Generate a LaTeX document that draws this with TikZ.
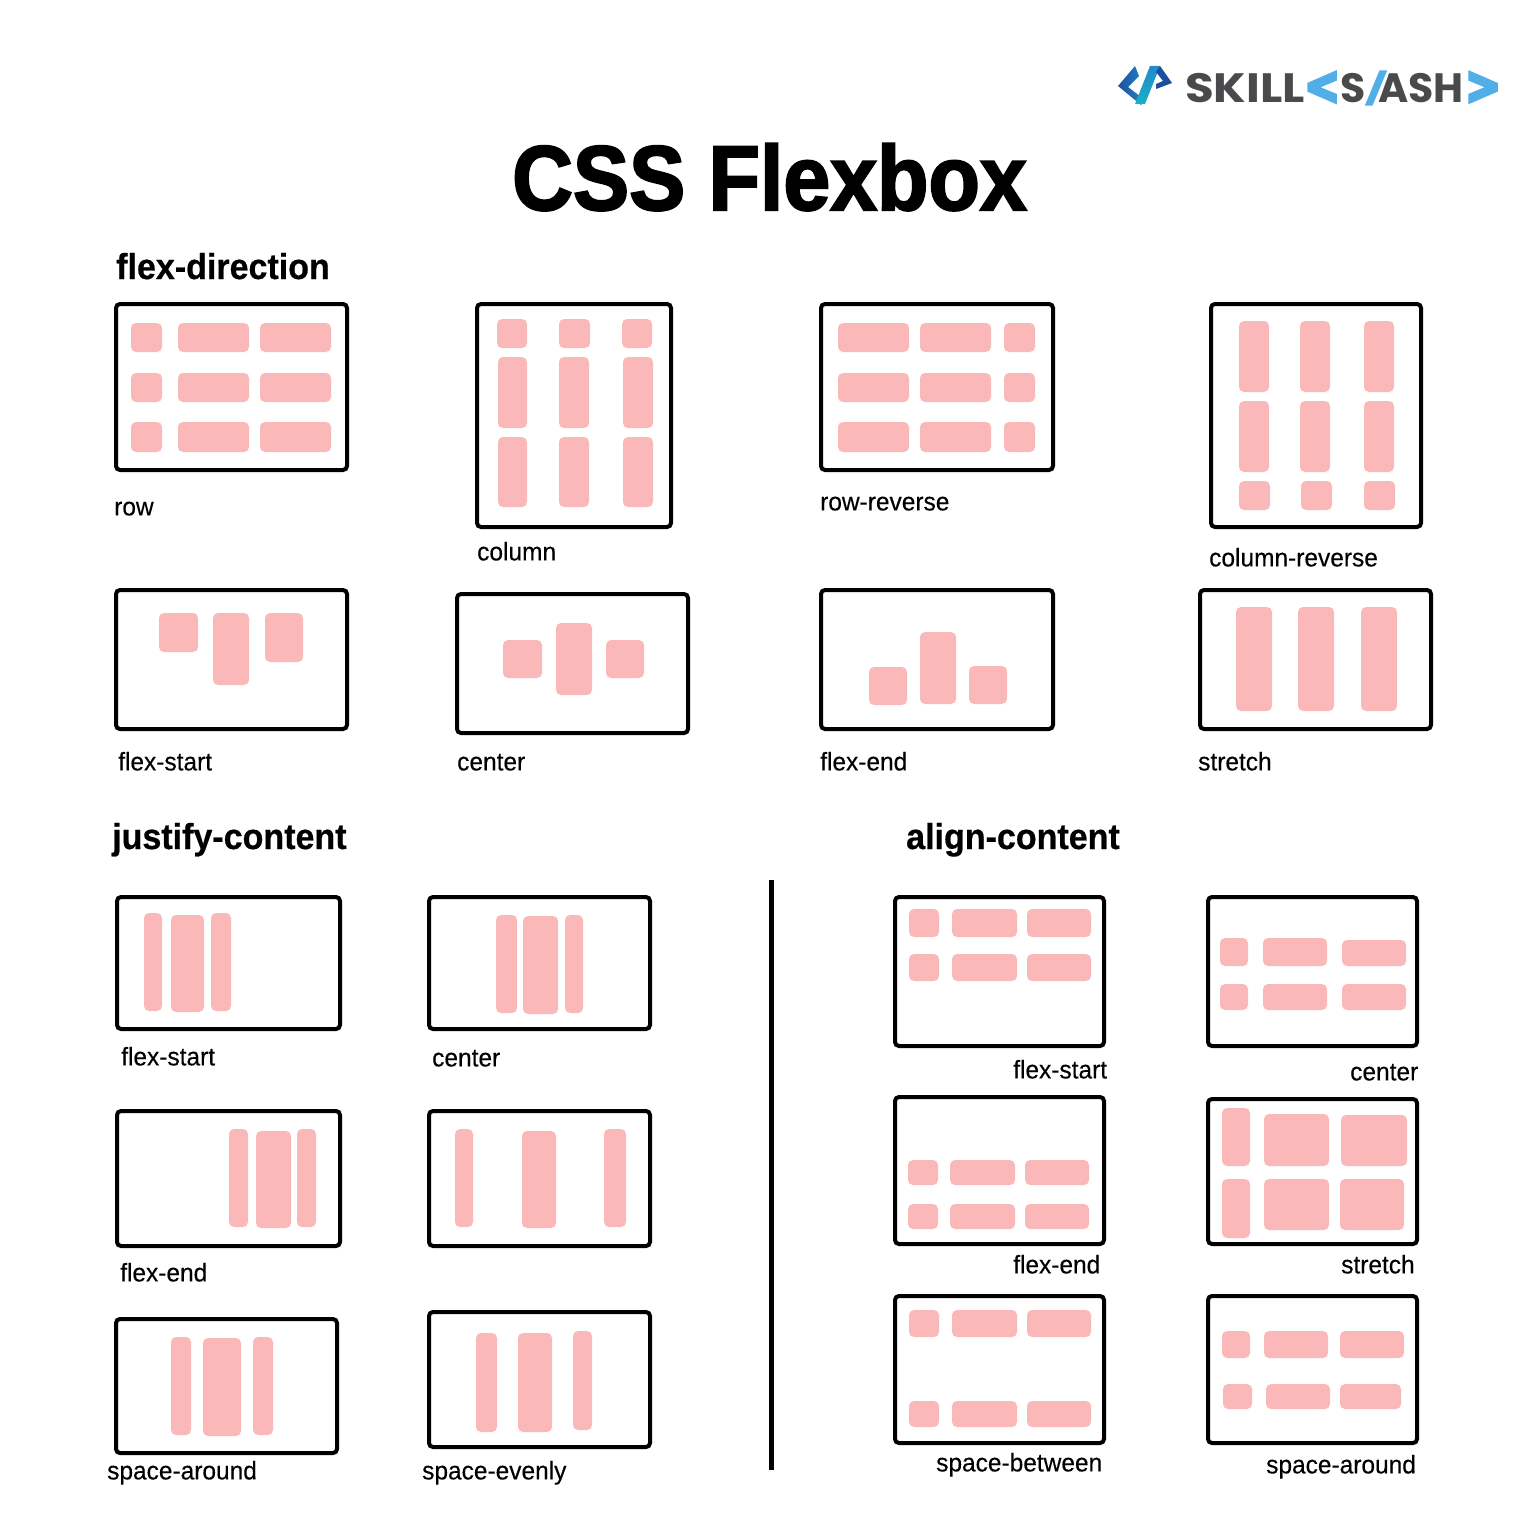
\documentclass[tikz,border=0pt]{standalone}
\usepackage{fontspec}
\usepackage{xcolor}
\setmainfont{Liberation Sans}
\newfontfamily\capfont[FakeStretch=0.96,FakeBold=0.25]{Liberation Sans}
\newfontfamily\titlefont[FakeStretch=0.915,FakeBold=2.2]{Liberation Sans Bold}
\newfontfamily\headfont[FakeStretch=0.945,FakeBold=0.6]{Liberation Sans Bold}
\newfontfamily\logofont{Poppins}
\newfontfamily\logowidefont[FakeStretch=1.14]{Poppins}
\newfontfamily\chevfont[FakeBold=8]{DejaVu Sans Bold}
\newfontfamily\slashfont[FakeBold=3]{DejaVu Sans Bold}
\definecolor{itemColor}{HTML}{FBB8B8}
\definecolor{inkColor}{HTML}{000000}
\definecolor{logoGrey}{HTML}{4A4A4C}
\definecolor{logoBlue}{HTML}{52AEE8}
\definecolor{iconNavy}{HTML}{1C4F9E}
\definecolor{iconBlue}{HTML}{2388CC}
\definecolor{iconTeal}{HTML}{17B2C4}
\tikzset{
  frameBox/.style={draw=inkColor, line width=4bp, rounded corners=4bp},
  itemBox/.style={fill=itemColor, rounded corners=5bp},
  capLabel/.style={anchor=base west, inner sep=0pt, yshift=-0.4bp, text=inkColor, font=\capfont\fontsize{25.5bp}{30bp}\selectfont},
  headLabel/.style={anchor=base west, inner sep=0pt, text=inkColor, font=\headfont\fontsize{36bp}{42bp}\selectfont},
  logoLabel/.style={anchor=base west, inner sep=0pt, text=logoGrey, font=\logofont\bfseries\fontsize{41bp}{48bp}\selectfont},
}

\begin{document}
\begin{tikzpicture}[x=1bp,y=-1bp]
\useasboundingbox (0, 0) rectangle (1536, 1536);

% logo
\begin{scope}
\shade[left color=iconNavy, right color=iconBlue]
(1118, 86) -- (1135, 66) -- (1139, 76) -- (1128, 87) -- (1145, 100) -- (1141, 105) -- cycle;
\shade[bottom color=iconTeal, top color=iconBlue]
(1150, 66) -- (1160, 66) -- (1145, 104) -- (1135, 104) -- cycle;
\fill[color=iconNavy]
(1160, 66) -- (1172, 83) -- (1156, 89) -- (1156, 84) -- (1163, 81) -- (1156, 72) -- cycle;
\node[logoLabel, font=\logowidefont\bfseries\fontsize{41bp}{48bp}\selectfont] (logoSkill) at (1185, 103) {SKILL};
\node[logoLabel] (logoEss) at (1340, 103) {S};
\node[logoLabel] (logoAsh) at (1378, 103) {ASH};
\node[inner sep=0pt, text=logoBlue] (logoOpen) at (1322, 88)
{\resizebox{35bp}{30bp}{\chevfont <}};
\node[inner sep=0pt, text=logoBlue] (logoSlash) at (1376, 88)
{\resizebox{20bp}{30bp}{\slashfont /}};
\node[inner sep=0pt, text=logoBlue] (logoClose) at (1483, 88)
{\resizebox{35bp}{30bp}{\chevfont >}};
\end{scope}

% title
\node[anchor=base west, inner sep=0pt, text=inkColor, font=\titlefont\fontsize{92bp}{110bp}\selectfont]
(titleText) at (512, 210) {CSS Flexbox};

% headings
\node[headLabel] (headDirection) at (116, 279) {flex-direction};
\node[headLabel] (headJustify) at (112, 849) {justify-content};
\node[headLabel] (headAlign) at (906, 849) {align-content};

% flex-direction
\begin{scope}
\draw[frameBox] (116, 304) rectangle (347, 470);
\fill[itemBox] (131, 323) rectangle (162, 352);
\fill[itemBox] (178, 323) rectangle (249, 352);
\fill[itemBox] (260, 323) rectangle (331, 352);
\fill[itemBox] (131, 373) rectangle (162, 402);
\fill[itemBox] (178, 373) rectangle (249, 402);
\fill[itemBox] (260, 373) rectangle (331, 402);
\fill[itemBox] (131, 422) rectangle (162, 452);
\fill[itemBox] (178, 422) rectangle (249, 452);
\fill[itemBox] (260, 422) rectangle (331, 452);
\node[capLabel] (dirRow) at (114, 515) {row};

\draw[frameBox] (477, 304) rectangle (671, 527);
\fill[itemBox] (497, 319) rectangle (527, 348);
\fill[itemBox] (559, 319) rectangle (590, 348);
\fill[itemBox] (622, 319) rectangle (652, 348);
\fill[itemBox] (498, 357) rectangle (527, 428);
\fill[itemBox] (559, 357) rectangle (589, 428);
\fill[itemBox] (623, 357) rectangle (653, 428);
\fill[itemBox] (498, 437) rectangle (527, 507);
\fill[itemBox] (559, 437) rectangle (589, 507);
\fill[itemBox] (623, 437) rectangle (653, 507);
\node[capLabel] (dirColumn) at (477, 560) {column};

\draw[frameBox] (821, 304) rectangle (1053, 470);
\fill[itemBox] (838, 323) rectangle (909, 352);
\fill[itemBox] (920, 323) rectangle (991, 352);
\fill[itemBox] (1004, 323) rectangle (1035, 352);
\fill[itemBox] (838, 373) rectangle (909, 402);
\fill[itemBox] (920, 373) rectangle (991, 402);
\fill[itemBox] (1004, 373) rectangle (1035, 402);
\fill[itemBox] (838, 422) rectangle (909, 452);
\fill[itemBox] (920, 422) rectangle (991, 452);
\fill[itemBox] (1004, 422) rectangle (1035, 452);
\node[capLabel] (dirRowRev) at (820, 510) {row-reverse};

\draw[frameBox] (1211, 304) rectangle (1421, 527);
\fill[itemBox] (1239, 321) rectangle (1269, 392);
\fill[itemBox] (1300, 321) rectangle (1330, 392);
\fill[itemBox] (1364, 321) rectangle (1394, 392);
\fill[itemBox] (1239, 401) rectangle (1269, 472);
\fill[itemBox] (1300, 401) rectangle (1330, 472);
\fill[itemBox] (1364, 401) rectangle (1394, 472);
\fill[itemBox] (1239, 481) rectangle (1270, 510);
\fill[itemBox] (1301, 481) rectangle (1332, 510);
\fill[itemBox] (1364, 481) rectangle (1395, 510);
\node[capLabel] (dirColRev) at (1209, 566) {column-reverse};
\end{scope}

% align-items
\begin{scope}
\draw[frameBox] (116, 590) rectangle (347, 729);
\fill[itemBox] (159, 613) rectangle (198, 652);
\fill[itemBox] (213, 613) rectangle (249, 685);
\fill[itemBox] (265, 613) rectangle (303, 662);
\node[capLabel] (itemsStart) at (118, 770) {flex-start};

\draw[frameBox] (457, 594) rectangle (688, 733);
\fill[itemBox] (503, 640) rectangle (542, 678);
\fill[itemBox] (556, 623) rectangle (592, 695);
\fill[itemBox] (606, 640) rectangle (644, 678);
\node[capLabel] (itemsCenter) at (457, 770) {center};

\draw[frameBox] (821, 590) rectangle (1053, 729);
\fill[itemBox] (869, 667) rectangle (907, 705);
\fill[itemBox] (920, 632) rectangle (956, 704);
\fill[itemBox] (969, 666) rectangle (1007, 704);
\node[capLabel] (itemsEnd) at (820, 770) {flex-end};

\draw[frameBox] (1200, 590) rectangle (1431, 729);
\fill[itemBox] (1236, 607) rectangle (1272, 711);
\fill[itemBox] (1298, 607) rectangle (1334, 711);
\fill[itemBox] (1361, 607) rectangle (1397, 711);
\node[capLabel] (itemsStretch) at (1198, 770) {stretch};
\end{scope}

% justify-content
\begin{scope}
\draw[frameBox] (117, 897) rectangle (340, 1029);
\fill[itemBox] (144, 913) rectangle (162, 1011);
\fill[itemBox] (171, 915) rectangle (204, 1012);
\fill[itemBox] (211, 913) rectangle (231, 1011);
\node[capLabel] (justStart) at (121, 1065) {flex-start};

\draw[frameBox] (429, 897) rectangle (650, 1029);
\fill[itemBox] (496, 915) rectangle (517, 1013);
\fill[itemBox] (523, 916) rectangle (558, 1014);
\fill[itemBox] (565, 915) rectangle (583, 1013);
\node[capLabel] (justCenter) at (432, 1066) {center};

\draw[frameBox] (117, 1111) rectangle (340, 1246);
\fill[itemBox] (229, 1129) rectangle (248, 1227);
\fill[itemBox] (256, 1131) rectangle (291, 1228);
\fill[itemBox] (297, 1129) rectangle (316, 1227);
\node[capLabel] (justEnd) at (120, 1281) {flex-end};

\draw[frameBox] (429, 1111) rectangle (650, 1246);
\fill[itemBox] (455, 1129) rectangle (473, 1227);
\fill[itemBox] (522, 1131) rectangle (556, 1228);
\fill[itemBox] (604, 1129) rectangle (626, 1227);

\draw[frameBox] (116, 1319) rectangle (337, 1453);
\fill[itemBox] (171, 1337) rectangle (191, 1435);
\fill[itemBox] (203, 1338) rectangle (241, 1436);
\fill[itemBox] (253, 1337) rectangle (273, 1435);
\node[capLabel] (justAround) at (107, 1479) {space-around};

\draw[frameBox] (429, 1312) rectangle (650, 1447);
\fill[itemBox] (476, 1333) rectangle (497, 1432);
\fill[itemBox] (518, 1333) rectangle (552, 1432);
\fill[itemBox] (573, 1331) rectangle (592, 1430);
\node[capLabel] (justEvenly) at (422, 1479) {space-evenly};
\end{scope}

% divider
\draw[color=inkColor, line width=5bp] (771, 880) -- (771, 1470);

% align-content
\begin{scope}
\draw[frameBox] (895, 897) rectangle (1104, 1046);
\fill[itemBox] (909, 909) rectangle (939, 937);
\fill[itemBox] (952, 909) rectangle (1017, 937);
\fill[itemBox] (1027, 909) rectangle (1091, 937);
\fill[itemBox] (909, 954) rectangle (939, 981);
\fill[itemBox] (952, 954) rectangle (1017, 981);
\fill[itemBox] (1027, 954) rectangle (1091, 981);
\node[capLabel] (alignStart) at (1013, 1078) {flex-start};

\draw[frameBox] (1208, 897) rectangle (1417, 1046);
\fill[itemBox] (1220, 938) rectangle (1248, 966);
\fill[itemBox] (1263, 938) rectangle (1327, 966);
\fill[itemBox] (1342, 940) rectangle (1406, 966);
\fill[itemBox] (1220, 984) rectangle (1248, 1010);
\fill[itemBox] (1263, 984) rectangle (1327, 1010);
\fill[itemBox] (1342, 984) rectangle (1406, 1010);
\node[capLabel] (alignCenter) at (1350, 1080) {center};

\draw[frameBox] (895, 1097) rectangle (1104, 1244);
\fill[itemBox] (908, 1160) rectangle (938, 1185);
\fill[itemBox] (950, 1160) rectangle (1015, 1185);
\fill[itemBox] (1025, 1160) rectangle (1089, 1185);
\fill[itemBox] (908, 1204) rectangle (938, 1229);
\fill[itemBox] (950, 1204) rectangle (1015, 1229);
\fill[itemBox] (1025, 1204) rectangle (1089, 1229);
\node[capLabel] (alignEnd) at (1013, 1273) {flex-end};

\draw[frameBox] (1208, 1099) rectangle (1417, 1244);
\fill[itemBox] (1222, 1108) rectangle (1250, 1166);
\fill[itemBox] (1264, 1114) rectangle (1329, 1166);
\fill[itemBox] (1341, 1115) rectangle (1407, 1166);
\fill[itemBox] (1222, 1179) rectangle (1250, 1238);
\fill[itemBox] (1264, 1179) rectangle (1329, 1230);
\fill[itemBox] (1340, 1179) rectangle (1404, 1230);
\node[capLabel] (alignStretch) at (1341, 1273) {stretch};

\draw[frameBox] (895, 1296) rectangle (1104, 1443);
\fill[itemBox] (909, 1310) rectangle (939, 1337);
\fill[itemBox] (952, 1310) rectangle (1017, 1337);
\fill[itemBox] (1027, 1310) rectangle (1091, 1337);
\fill[itemBox] (909, 1401) rectangle (939, 1427);
\fill[itemBox] (952, 1401) rectangle (1017, 1427);
\fill[itemBox] (1027, 1401) rectangle (1091, 1427);
\node[capLabel] (alignBetween) at (936, 1471) {space-between};

\draw[frameBox] (1208, 1296) rectangle (1417, 1443);
\fill[itemBox] (1222, 1331) rectangle (1250, 1358);
\fill[itemBox] (1264, 1331) rectangle (1328, 1358);
\fill[itemBox] (1340, 1331) rectangle (1404, 1358);
\fill[itemBox] (1223, 1384) rectangle (1252, 1409);
\fill[itemBox] (1266, 1384) rectangle (1330, 1409);
\fill[itemBox] (1340, 1384) rectangle (1401, 1409);
\node[capLabel] (alignAround) at (1266, 1473) {space-around};
\end{scope}

\end{tikzpicture}
\end{document}
